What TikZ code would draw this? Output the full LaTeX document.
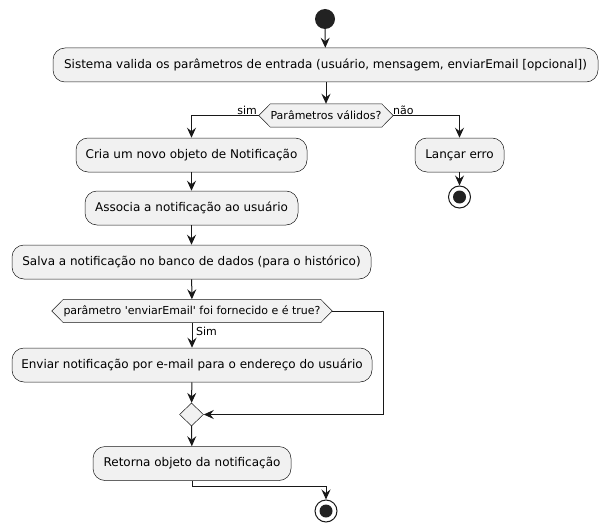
\documentclass[tikz,border=0pt]{standalone}
\usepackage{fontspec}
\setmainfont{DejaVu Sans}[Ligatures=TeXOff]
\usetikzlibrary{arrows.meta,shapes.geometric,backgrounds}
\definecolor{boxfill}{HTML}{F1F1F1}
\definecolor{boxline}{HTML}{181818}
\definecolor{dotfill}{HTML}{222222}
\tikzset{
  actbox/.style={draw=boxline, fill=boxfill, line width=0.5pt, rounded corners=12pt,
    minimum height=34pt, inner sep=0pt, font=\fontsize{12}{14}\selectfont},
  hexnode/.style={inner sep=0pt, minimum height=23pt, font=\fontsize{11}{13}\selectfont},
  hexline/.style={draw=boxline, fill=boxfill, line width=0.5pt},
  mergenode/.style={diamond, draw=boxline, fill=boxfill, line width=0.5pt, inner sep=0pt,
    minimum width=24pt, minimum height=23pt},
  startnode/.style={circle, fill=dotfill, inner sep=0pt, minimum size=20pt},
  endnode/.style={circle, draw=boxline, fill=white, line width=1pt, inner sep=0pt, minimum size=22pt,
    path picture={\fill[dotfill] (path picture bounding box.center) circle (6.5pt);}},
  arr/.style={draw=boxline, line width=1pt, -{Stealth[length=10pt,width=9pt,inset=3.5pt]}},
  lbl/.style={inner sep=0pt, font=\fontsize{11}{13}\selectfont},
}
\begin{document}
\begin{tikzpicture}[x=1pt,y=-1pt]
\useasboundingbox (0,0) rectangle (607,532);
\node[startnode] (start) at (325,19) {};
\node[actbox, minimum width=545pt] (b1) at (325.5,65) {Sistema valida os parâmetros de entrada (usuário, mensagem, enviarEmail [opcional])};
\node[hexnode, minimum width=134pt] (d1) at (326,115.5) {Parâmetros válidos?};
\node[actbox, minimum width=231pt] (b2) at (191.5,155) {Cria um novo objeto de Notificação};
\node[actbox, minimum width=89pt] (err) at (459.5,155) {Lançar erro};
\node[endnode] (end1) at (459.5,197) {};
\node[actbox, minimum width=213pt] (b3) at (191.5,208) {Associa a notificação ao usuário};
\node[actbox, minimum width=359pt] (b4) at (191.5,262) {Salva a notificação no banco de dados (para o histórico)};
\node[hexnode, minimum width=280pt] (d2) at (192,311) {parâmetro 'enviarEmail' foi fornecido e é true?};
\node[actbox, minimum width=360pt] (b5) at (192,365) {Enviar notificação por e-mail para o endereço do usuário};
\node[mergenode] (m) at (191.5,414.5) {};
\node[actbox, minimum width=198pt] (b6) at (192,463.5) {Retorna objeto da notificação};
\node[endnode] (end2) at (326,511) {};
\coordinate (c1) at (383,311);
\coordinate (c2) at (326,486);
\begin{scope}[on background layer]
\foreach \d in {d1,d2}{
  \path[hexline] (\d.west) -- ([xshift=11.5pt]\d.north west) -- ([xshift=-11.5pt]\d.north east)
    -- (\d.east) -- ([xshift=-11.5pt]\d.south east) -- ([xshift=11.5pt]\d.south west) -- cycle;
}
\end{scope}
\node[lbl, anchor=east] (lsim) at (257,110) {sim};
\node[lbl, anchor=west] (lnao) at (393,110) {não};
\node[lbl, anchor=west] (lSim) at (196,331) {Sim};
\draw[arr] (start) -- (b1);
\draw[arr] (b1.south -| d1.north) -- (d1);
\draw[arr] (d1.west) -| (b2);
\draw[arr] (d1.east) -| (err);
\draw[arr] (err) -- (end1);
\draw[arr] (b2) -- (b3);
\draw[arr] (b3) -- (b4);
\draw[arr] (b4) -- (d2);
\draw[arr] (d2) -- (b5);
\draw[arr] (d2.east) -- (c1) |- (m);
\draw[arr] (b5) -- (m);
\draw[arr] (m) -- (b6);
\draw[arr] (b6.south) |- (c2) -- (end2);
\end{tikzpicture}
\end{document}
